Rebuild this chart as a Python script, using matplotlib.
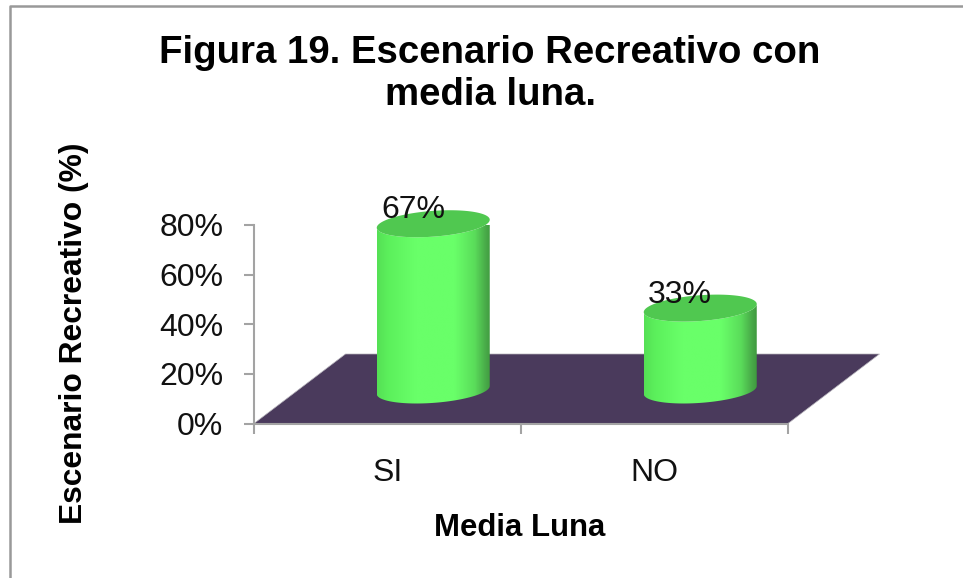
import numpy as np
import matplotlib
matplotlib.use("Agg")
import matplotlib.pyplot as plt
from matplotlib.colors import LinearSegmentedColormap
from matplotlib.patches import Polygon

categories = ["SI", "NO"]
values = [67, 33]
value_labels = ["67%", "33%"]
y_ticks = [0, 20, 40, 60, 80]
title = "Figura 19. Escenario Recreativo con\nmedia luna."
x_title = "Media Luna"
y_title = "Escenario Recreativo (%)"

W, H = 963, 578
plt.rcParams["font.family"] = ["Liberation Sans", "DejaVu Sans"]
fig = plt.figure(figsize=(W / 100, H / 100), dpi=100, facecolor="white")
L, R, T, B = 254, 788, 225, 423.5
ax = fig.add_axes([L / W, 1 - B / H, (R - L) / W, (B - T) / H])
ax.set_facecolor("none")

GRAY = "#a3a3a3"
PX_X = (R - L) / 2        # pixels per category
PX_Y = (B - T) / 80       # pixels per percent
DEPTH_X = 91.5 / PX_X     # oblique depth in data units
DEPTH_Y = 69.5 / PX_Y

# floor
floor = Polygon([(0, 0), (2, 0), (2 + DEPTH_X, DEPTH_Y), (DEPTH_X, DEPTH_Y)],
                closed=True, facecolor="#4a3a5c", edgecolor="#b5b2ba", lw=0.5,
                clip_on=False, zorder=1)
ax.add_patch(floor)

# cylinders
side_cmap = LinearSegmentedColormap.from_list(
    "side", [(0, "#55e055"), (0.10, "#5cf05c"), (0.34, "#69ff69"), (0.68, "#69ff69"),
             (0.86, "#5adc5a"), (0.96, "#48a848"), (1, "#3f9a3f")])
grad = np.linspace(0, 1, 256).reshape(1, -1)
A = 56.5 / PX_X
TILT = 4.0 / PX_Y
BK = 12.9 / PX_Y
t = np.linspace(0, 2 * np.pi, 180)
for i, v in enumerate(values):
    cx = i + 0.5 + DEPTH_X / 2
    cy = DEPTH_Y / 2 - 0.5
    ex = cx + A * np.cos(t)
    # side silhouette
    s = np.linspace(np.pi, 0, 90)
    xs = cx + A * np.cos(s)
    bottom = cy - BK * np.sin(s) + TILT * np.cos(s)
    top = cy + v - BK * np.sin(s) + TILT * np.cos(s)
    poly = Polygon(np.r_[np.c_[xs, bottom], np.c_[xs[::-1], top[::-1]]], closed=True,
                   transform=ax.transData, facecolor="none", edgecolor="none")
    ax.add_patch(poly)
    im = ax.imshow(grad, extent=(cx - A, cx + A, cy - 20, cy + v + 20), aspect="auto",
                   cmap=side_cmap, zorder=2, interpolation="bilinear")
    im.set_clip_path(poly)
    ax.fill(ex, cy + v + BK * np.sin(t) + TILT * np.cos(t), color="#50c850",
            zorder=3, clip_on=False, lw=0)
    ax.text(i + 0.5 + DEPTH_X * 0.28, cy + v + 5.4, value_labels[i], ha="center", va="center",
            fontsize=23, color="#111111", zorder=5, clip_on=False)

ax.set_xlim(0, 2)
ax.set_ylim(0, 80)
for s in ("top", "right"):
    ax.spines[s].set_visible(False)
for s in ("left", "bottom"):
    ax.spines[s].set_color(GRAY)
    ax.spines[s].set_linewidth(1.5)
ax.set_yticks(y_ticks, [f"{v}%" for v in y_ticks])
ax.tick_params(axis="y", length=7.5, width=1.5, color=GRAY, pad=14.7, labelsize=23, labelcolor="#111111")
ax.set_xticks([0, 1, 2], ["", "", ""])
ax.tick_params(axis="x", which="major", length=7, width=1.5, color=GRAY)
ax.set_xticks([0.5, 1.5], categories, minor=True)
ax.tick_params(axis="x", which="minor", length=0, pad=25, labelsize=23, labelcolor="#111111")

fig.text(490 / W, 1 - 74 / H, title, ha="center", va="center", fontsize=27.6, fontweight="bold",
         color="black", linespacing=1.2)
fig.text(520 / W, 1 - 528 / H, x_title, ha="center", va="center", fontsize=22.4, fontweight="bold")
fig.text(74 / W, 1 - 333 / H, y_title, ha="center", va="center", rotation=90, fontsize=22.9, fontweight="bold")

# chart frame
fig.add_artist(plt.Line2D([10 / W, 10 / W, 1], [0, 1 - 6 / H, 1 - 6 / H],
                          color="#999999", lw=1.8, transform=fig.transFigure))
fig.savefig("out.png", dpi=100)
